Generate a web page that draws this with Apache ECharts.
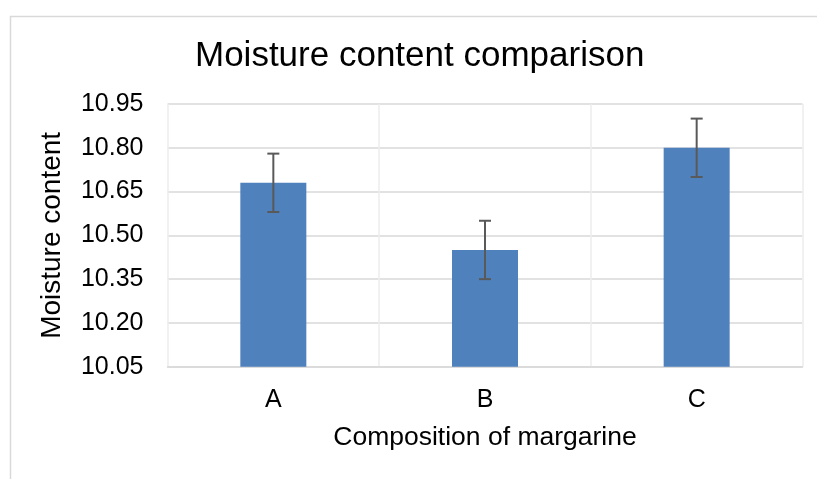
<!DOCTYPE html>
<html>
<head>
<meta charset="utf-8">
<script src="https://cdn.jsdelivr.net/npm/echarts@6/dist/echarts.min.js"></script>
<style>
  html, body { margin: 0; padding: 0; background: #fff; }
  #chart { width: 817px; height: 479px; }
</style>
</head>
<body>
<div id="chart"></div>
<script>
// data
var categories = ['A', 'B', 'C'];
var moisture = [10.68, 10.45, 10.80];
var errors = [0.10, 0.10, 0.10];
var yTicks = [10.05, 10.20, 10.35, 10.50, 10.65, 10.80, 10.95];

var FONT = '"Liberation Sans", Arial, sans-serif';

// error bar rows: [index, low, high]
var errData = moisture.map(function (v, i) {
    return [i, v - errors[i], v + errors[i]];
});

var myChart = echarts.init(document.getElementById('chart'), null, { renderer: 'canvas' });

var option = {
    animation: false,
    backgroundColor: '#fff',
    title: {
        text: 'Moisture content comparison',
        left: 190,
        top: 34,
        textStyle: { fontFamily: FONT, fontSize: 35, fontWeight: 'normal', color: '#000' }
    },
    graphic: [{
        // outer chart border
        type: 'rect',
        left: 8, top: 14,
        shape: { width: 840, height: 500 },
        style: { fill: 'none', stroke: '#d9d9d9', lineWidth: 1.5 },
        silent: true
    }],
    grid: { left: 167.5, right: 14.5, top: 104, bottom: 112.3 },
    xAxis: {
        type: 'category',
        data: categories,
        name: 'Composition of margarine',
        nameLocation: 'middle',
        nameGap: 57,
        nameTextStyle: { fontFamily: FONT, fontSize: 26.5, color: '#000' },
        axisLine: { show: true, lineStyle: { color: '#d9d9d9', width: 1.5 } },
        axisTick: { show: false },
        axisLabel: { fontFamily: FONT, fontSize: 25, color: '#000', margin: 21 },
        splitLine: { show: true, lineStyle: { color: '#ececec', width: 1.5 } }
    },
    yAxis: {
        type: 'value',
        min: yTicks[0],
        max: yTicks[yTicks.length - 1],
        interval: 0.15,
        name: 'Moisture content',
        nameLocation: 'middle',
        nameGap: 101,
        nameTextStyle: { fontFamily: FONT, fontSize: 28, color: '#000' },
        axisLine: { show: false },
        axisTick: { show: false },
        axisLabel: {
            fontFamily: FONT, fontSize: 25, color: '#000', margin: 24,
            formatter: function (v) { return v.toFixed(2); }
        },
        splitLine: { show: true, lineStyle: { color: '#d9d9d9', width: 1.5 } }
    },
    series: [{
        name: 'Moisture content',
        type: 'bar',
        data: moisture,
        barWidth: 66,
        itemStyle: { color: '#4f81bd' }
    }, {
        name: 'error',
        type: 'custom',
        data: errData,
        encode: { x: 0, y: [1, 2] },
        z: 5,
        renderItem: function (params, api) {
            var lo = api.coord([api.value(0), api.value(1)]);
            var hi = api.coord([api.value(0), api.value(2)]);
            var cap = 6;
            var st = { stroke: '#595959', lineWidth: 2 };
            return {
                type: 'group',
                children: [
                    { type: 'line', shape: { x1: hi[0], y1: hi[1], x2: lo[0], y2: lo[1] }, style: st },
                    { type: 'line', shape: { x1: hi[0] - cap, y1: hi[1], x2: hi[0] + cap, y2: hi[1] }, style: st },
                    { type: 'line', shape: { x1: lo[0] - cap, y1: lo[1], x2: lo[0] + cap, y2: lo[1] }, style: st }
                ]
            };
        }
    }]
};

myChart.setOption(option);
</script>
</body>
</html>
